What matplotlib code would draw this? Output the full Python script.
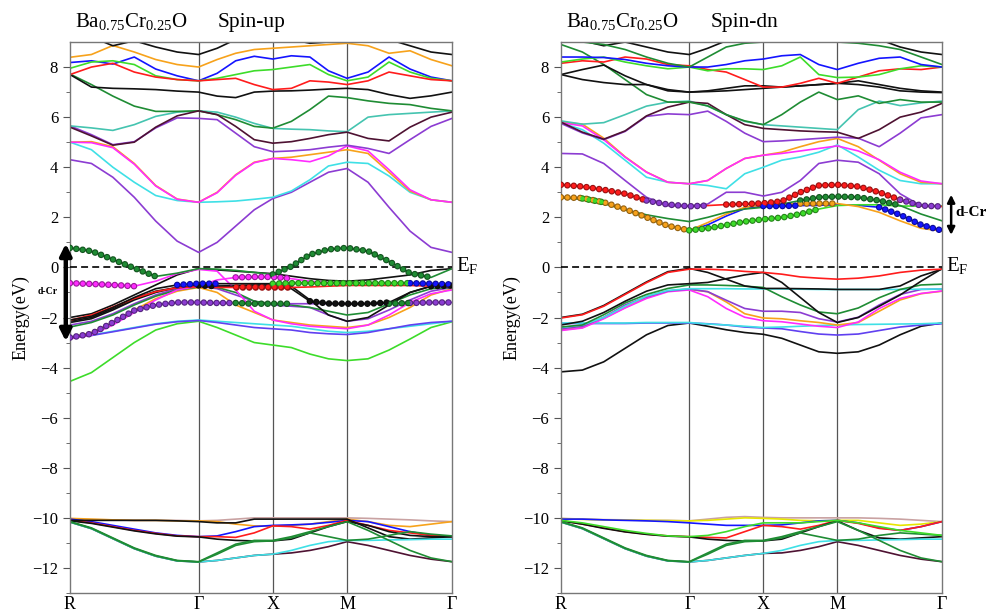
import numpy as np
import matplotlib
matplotlib.use("Agg")
import matplotlib.pyplot as plt
import matplotlib.colors as mcolors

plt.rcParams['font.family'] = ['Liberation Serif', 'DejaVu Serif']
plt.rcParams['mathtext.fontset'] = 'custom'
plt.rcParams['mathtext.rm'] = 'Liberation Serif'
plt.rcParams['lines.scale_dashes'] = False

# high-symmetry path R-G-X-M-G, energies sampled at 7+4+4+5 points
kpath_labels = ['R', 'Γ', 'X', 'M', 'Γ']
seg_len = [0.866, 0.5, 0.5, 0.707]
seg_pts = [6, 4, 4, 5]

# ---------------- spin-up ----------------
up_pur1 = [4.3, 4.15, 3.6, 2.8, 1.85, 1.05, 0.6,  1.0, 1.65, 2.3, 2.75,  3.0, 3.4, 3.8, 3.95,  3.4, 2.4, 1.45, 0.8, 0.6]
up_cya1 = [5.0, 4.7, 4.0, 3.4, 2.87, 2.67, 2.6,  2.62, 2.65, 2.72, 2.8,  3.05, 3.5, 4.05, 4.2,  4.15, 3.65, 3.0, 2.7, 2.6]
up_ora1 = [5.0, 5.02, 4.82, 4.15, 3.27, 2.73, 2.6,  3.0, 3.7, 4.2, 4.35,  4.4, 4.5, 4.6, 4.7,  4.55, 3.8, 3.05, 2.7, 2.6]
up_mag1 = [5.0, 4.98, 4.78, 4.12, 3.25, 2.72, 2.6,  2.98, 3.68, 4.18, 4.35,  4.3, 4.22, 4.45, 4.85,  4.65, 3.9, 3.1, 2.7, 2.6]
up_pur2 = [5.65, 5.3, 4.9, 5.02, 5.57, 5.97, 5.95,  5.9, 5.36, 4.82, 4.62,  4.65, 4.7, 4.8, 4.88,  4.75, 4.55, 5.1, 5.63, 5.95]
up_teal = [5.65, 5.57, 5.47, 5.7, 6.03, 6.2, 6.25,  6.2, 6.0, 5.75, 5.55,  5.52, 5.5, 5.45, 5.42,  6.0, 6.1, 6.15, 6.2, 6.25]
up_dgr1 = [7.72, 7.3, 6.84, 6.44, 6.23, 6.23, 6.25,  6.1, 5.9, 5.63, 5.56,  5.83, 6.3, 6.84, 6.78,  6.65, 6.55, 6.5, 6.35, 6.25]
up_blk1 = [7.7, 7.2, 7.15, 7.13, 7.1, 7.04, 7.0,  6.84, 6.78, 7.0, 7.04,  7.05, 7.08, 7.12, 7.15,  7.1, 6.9, 6.75, 6.85, 7.0]
up_mar1 = [5.6, 5.25, 4.88, 5.0, 5.6, 6.05, 6.25,  6.1, 5.63, 5.1, 4.96,  5.02, 5.15, 5.3, 5.4,  5.15, 5.05, 5.6, 6.0, 6.2]
up_blu1 = [8.18, 8.25, 8.12, 8.4, 7.92, 7.65, 7.45,  7.75, 8.25, 8.43, 8.32,  8.45, 8.4, 7.85, 7.55,  7.8, 8.4, 7.92, 7.6, 7.45]
up_grn1 = [7.95, 8.2, 8.25, 8.1, 7.65, 7.5, 7.45,  7.55, 7.7, 7.85, 7.9,  8.0, 8.1, 7.7, 7.45,  7.6, 8.2, 7.8, 7.55, 7.45]
up_red1 = [7.7, 8.0, 8.15, 7.8, 7.6, 7.5, 7.45,  7.5, 7.55, 7.3, 7.1,  7.15, 7.45, 7.4, 7.3,  7.45, 7.8, 7.65, 7.5, 7.45]
up_ora2 = [8.39, 8.5, 8.86, 8.6, 8.3, 8.1, 8.0,  8.3, 8.55, 8.7, 8.75,  8.8, 8.85, 8.9, 8.95,  8.85, 8.55, 8.65, 8.3, 8.05]
up_blk2 = [9.4, 9.2, 8.85, 9.05, 8.8, 8.6, 8.5,  8.75, 9.1, 9.3, 9.4,  9.1, 8.95, 9.0, 9.0,  9.2, 9.1, 8.85, 8.6, 8.5]

up_dcr = [0.78, 0.65, 0.32, -0.03, -0.36, -0.23, -0.05,  -0.07, -0.12, -0.2, -0.28,  0.04, 0.51, 0.72, 0.78,  0.65, 0.24, -0.23, -0.4, -0.05]
up_mag2 = [-0.63, -0.66, -0.7, -0.75, -0.55, -0.25, -0.08,  -0.15, -0.9, -1.75, -2.1,  -2.25, -2.35, -2.4, -2.45,  -2.3, -1.9, -1.4, -1.05, -0.9]
up_mag3 = [-2.85, -2.7, -2.3, -1.8, -1.3, -0.9, -0.75,  -0.5, -0.4, -0.38, -0.38,  -0.45, -0.55, -0.6, -0.62,  -0.62, -0.62, -0.63, -0.65, -0.68]
up_flat = [-2.1, -1.95, -1.6, -1.2, -0.85, -0.7, -0.65,  -0.65, -0.65, -0.65, -0.65,  -0.63, -0.63, -0.63, -0.63,  -0.63, -0.63, -0.63, -0.65, -0.68]
up_red2 = [-2.11, -1.9, -1.58, -1.24, -0.97, -0.81, -0.77,  -0.8, -0.8, -0.8, -0.8,  -0.8, -0.78, -0.75, -0.72,  -0.72, -0.72, -0.72, -0.75, -0.77]
up_blk3 = [-2.2, -2.05, -1.7, -1.3, -1.0, -0.8, -0.72,  -0.75, -0.75, -0.75, -0.75,  -0.85, -1.35, -1.44, -1.45,  -1.45, -1.4, -1.0, -0.75, -0.72]
up_pur3 = [-2.8, -2.65, -2.2, -1.72, -1.5, -1.4, -1.4,  -1.42, -1.42, -1.45, -1.45,  -1.45, -1.45, -1.45, -1.45,  -1.45, -1.45, -1.42, -1.4, -1.4]
up_dgr2 = [-2.38, -2.2, -1.9, -1.5, -1.15, -0.9, -0.78,  -0.8, -1.0, -1.35, -1.45,  -1.5, -1.6, -1.75, -1.9,  -1.8, -1.45, -1.1, -0.85, -0.8]
up_cya2 = [-2.8, -2.7, -2.55, -2.4, -2.25, -2.15, -2.1,  -2.15, -2.2, -2.25, -2.3,  -2.35, -2.45, -2.55, -2.6,  -2.55, -2.45, -2.35, -2.25, -2.15]
up_grn2 = [-4.55, -4.2, -3.6, -3.0, -2.5, -2.25, -2.15,  -2.4, -2.7, -3.0, -3.1,  -3.2, -3.46, -3.65, -3.72,  -3.65, -3.3, -2.86, -2.4, -2.17]
up_ora3 = [-2.8, -2.6, -2.2, -1.7, -1.25, -0.95, -0.8,  -1.0, -1.5, -1.8, -2.1,  -2.2, -2.3, -2.35, -2.4,  -2.3, -2.0, -1.6, -1.1, -0.85]
up_pur4 = [-2.3, -2.15, -1.85, -1.45, -1.1, -0.85, -0.75,  -0.85, -1.1, -1.35, -1.5,  -1.55, -1.6, -1.9, -2.15,  -2.05, -1.7, -1.3, -0.95, -0.8]
up_blk4 = [-2.0, -1.85, -1.5, -1.1, -0.7, -0.3, -0.05,  -0.1, -0.15, -0.2, -0.25,  -0.35, -0.45, -0.52, -0.55,  -0.5, -0.4, -0.3, -0.12, -0.05]
up_blk5 = [-2.15, -2.0, -1.65, -1.25, -0.95, -0.8, -0.75,  -0.75, -0.72, -0.7, -0.7,  -0.75, -1.3, -1.9, -2.15,  -2.0, -1.5, -1.0, -0.75, -0.7]
up_pur5 = [-2.82, -2.72, -2.57, -2.42, -2.27, -2.17, -2.12,  -2.2, -2.3, -2.4, -2.45,  -2.5, -2.6, -2.65, -2.68,  -2.6, -2.45, -2.3, -2.2, -2.15]

up_c_tan = [-10.05, -10.07, -10.08, -10.1, -10.1, -10.1, -10.12,  -10.1, -10.05, -10.0, -10.0,  -10.0, -10.0, -10.0, -10.0,  -10.02, -10.05, -10.08, -10.12, -10.15]
up_c_ora = [-10.02, -10.05, -10.08, -10.1, -10.1, -10.12, -10.12,  -10.15, -10.25, -10.32, -10.33,  -10.3, -10.25, -10.15, -10.05,  -10.15, -10.3, -10.35, -10.25, -10.15]
up_c_blu = [-10.05, -10.15, -10.3, -10.45, -10.6, -10.7, -10.75,  -10.72, -10.55, -10.35, -10.3,  -10.28, -10.25, -10.18, -10.1,  -10.15, -10.35, -10.55, -10.7, -10.75]
up_c_red = [-10.1, -10.2, -10.35, -10.5, -10.62, -10.72, -10.75,  -10.75, -10.78, -10.6, -10.32,  -10.35, -10.45, -10.3, -10.1,  -10.3, -10.5, -10.6, -10.7, -10.75]
up_c_blk1 = [-10.1, -10.1, -10.1, -10.1, -10.1, -10.12, -10.15,  -10.2, -10.2, -10.05, -10.05,  -10.05, -10.05, -10.05, -10.05,  -10.4, -10.75, -10.85, -10.8, -10.75]
up_c_blk2 = [-10.12, -10.22, -10.37, -10.52, -10.64, -10.73, -10.76,  -10.85, -10.9, -10.92, -10.92,  -10.85, -10.6, -10.35, -10.15,  -10.3, -10.55, -10.7, -10.75, -10.75]
up_c_dgr1 = [-10.15, -10.4, -10.8, -11.2, -11.5, -11.7, -11.75,  -11.4, -11.05, -10.9, -10.9,  -10.75, -10.55, -10.35, -10.15,  -10.5, -10.9, -11.3, -11.6, -11.75]
up_c_dgr2 = [-10.16, -10.42, -10.82, -11.22, -11.52, -11.71, -11.76,  -11.45, -11.1, -10.95, -10.92,  -10.8, -10.6, -10.75, -10.9,  -10.85, -10.7, -10.55, -10.65, -10.72]
up_c_cya = [-10.17, -10.43, -10.83, -11.23, -11.53, -11.72, -11.76,  -11.7, -11.6, -11.5, -11.45,  -11.3, -11.1, -10.95, -10.9,  -10.9, -10.88, -10.87, -10.85, -10.85]
up_c_mar = [-10.17, -10.43, -10.83, -11.23, -11.53, -11.72, -11.76,  -11.7, -11.6, -11.5, -11.45,  -11.4, -11.3, -11.15, -10.95,  -11.1, -11.3, -11.5, -11.65, -11.75]

# fat-band (d-Cr weight) flags
w_up_dcr = [1, 1, 1, 1, 1, 0, 0,  0, 0, 0, 1,  1, 1, 1, 1,  1, 1, 1, 1, 0]
w_up_mag2 = [1, 1, 1, 1, 0, 0, 0,  0, 0, 0, 0,  0, 0, 0, 0,  0, 0, 0, 0, 0]
w_up_mag3 = [0, 0, 0, 0, 0, 0, 0,  0, 1, 1, 1,  1, 0, 0, 0,  0, 0, 0, 0, 0]
w_up_flat_g = [0, 0, 0, 0, 0, 0, 0,  0, 0, 0, 1,  1, 1, 1, 1,  1, 1, 1, 0, 0]
w_up_flat_b = [0, 0, 0, 0, 0, 1, 1,  1, 0, 0, 0,  0, 0, 0, 0,  0, 0, 1, 1, 1]
w_up_red2 = [0, 0, 0, 0, 0, 0, 0,  0, 1, 1, 1,  1, 0, 0, 0,  0, 0, 0, 0, 0]
w_up_blk3 = [0, 0, 0, 0, 0, 0, 1,  1, 0, 0, 0,  0, 1, 1, 1,  1, 1, 0, 1, 1]
w_up_pur3_p = [1, 1, 1, 1, 1, 1, 1,  1, 1, 0, 0,  0, 0, 0, 0,  0, 0, 1, 1, 1]
w_up_pur3_g = [0, 0, 0, 0, 0, 0, 0,  0, 1, 1, 1,  1, 0, 0, 0,  0, 1, 1, 0, 0]

# ---------------- spin-dn ----------------
dn_pur1 = [4.55, 4.53, 4.15, 3.47, 2.8, 2.46, 2.45,  2.53, 3.0, 3.0, 2.85,  3.0, 3.47, 4.15, 4.28,  4.2, 3.74, 2.94, 2.46, 2.45]
dn_cya1 = [5.77, 5.5, 4.96, 4.28, 3.6, 3.4, 3.34,  3.27, 3.14, 3.74, 4.0,  4.28, 4.41, 4.6, 4.89,  4.41, 3.88, 3.47, 3.34, 3.34]
dn_ora1 = [5.8, 5.72, 5.16, 4.42, 3.81, 3.4, 3.34,  3.47, 3.95, 4.35, 4.48,  4.6, 4.82, 5.02, 5.15,  4.82, 4.28, 3.74, 3.4, 3.34]
dn_mag1 = [5.78, 5.65, 5.1, 4.4, 3.8, 3.4, 3.34,  3.47, 3.95, 4.35, 4.48,  4.55, 4.65, 4.75, 4.85,  4.65, 4.3, 3.8, 3.45, 3.34]
dn_pur2 = [5.75, 5.37, 5.1, 5.43, 6.03, 6.13, 6.1,  6.24, 5.83, 5.36, 5.02,  5.05, 5.1, 5.15, 5.2,  5.16, 4.82, 5.36, 5.97, 6.1]
dn_teal = [5.85, 5.72, 5.78, 6.1, 6.44, 6.6, 6.64,  6.44, 6.1, 5.83, 5.7,  5.65, 5.6, 5.55, 5.5,  6.3, 6.64, 6.46, 6.57, 6.64]
dn_mar1 = [5.8, 5.4, 5.12, 5.45, 6.05, 6.4, 6.6,  6.55, 6.1, 5.7, 5.55,  5.5, 5.45, 5.42, 5.4,  5.15, 5.5, 6.0, 6.2, 6.55]
dn_dgr1 = [8.9, 8.6, 8.1, 7.5, 6.9, 6.6, 6.6,  6.45, 6.1, 5.85, 5.7,  6.1, 6.6, 7.0, 6.7,  6.85, 6.55, 6.7, 6.6, 6.6]
dn_blk1 = [7.7, 7.5, 7.38, 7.3, 7.3, 7.1, 7.0,  7.02, 7.05, 7.1, 7.15,  7.2, 7.25, 7.3, 7.35,  7.3, 7.2, 7.05, 7.0, 6.98]
dn_blk2 = [7.7, 7.9, 8.08, 7.65, 7.3, 7.05, 7.0,  7.05, 7.15, 7.25, 7.25,  7.2, 7.25, 7.3, 7.35,  7.45, 7.3, 7.15, 7.05, 7.0]
dn_red1 = [8.15, 8.25, 8.2, 8.4, 8.32, 8.1, 8.05,  7.9, 7.8, 7.5, 7.2,  7.2, 7.35, 7.55, 7.35,  7.6, 7.85, 7.93, 7.9, 8.0]
dn_grn1 = [8.2, 8.32, 8.4, 8.2, 8.05, 7.93, 8.0,  7.85, 7.93, 7.93, 7.9,  8.05, 8.4, 7.7, 7.58,  7.6, 7.7, 7.93, 8.05, 8.0]
dn_blu1 = [8.4, 8.4, 8.38, 8.3, 8.15, 8.05, 8.0,  8.0, 8.1, 8.25, 8.32,  8.45, 8.5, 8.1, 7.9,  8.15, 8.35, 8.4, 8.1, 8.0]
dn_blk3 = [9.2, 9.05, 8.85, 9.0, 8.8, 8.6, 8.5,  8.75, 9.05, 9.3, 9.4,  9.3, 9.1, 9.0, 9.0,  9.0, 9.1, 8.8, 8.6, 8.5]
dn_dgr2 = [9.0, 9.0, 8.9, 8.7, 8.4, 8.15, 8.0,  8.4, 8.8, 8.95, 9.0,  9.0, 9.0, 9.0, 9.0,  8.95, 8.85, 8.7, 8.4, 8.1]

dn_red2 = [3.3, 3.23, 3.1, 2.94, 2.67, 2.51, 2.44,  2.47, 2.51, 2.53, 2.56,  2.64, 3.0, 3.27, 3.3,  3.23, 3.0, 2.7, 2.47, 2.43]
dn_ora2 = [2.8, 2.77, 2.6, 2.33, 2.0, 1.66, 1.48,  1.79, 2.13, 2.4, 2.5,  2.52, 2.55, 2.55, 2.55,  2.43, 2.2, 1.86, 1.56, 1.45]
dn_dgr3 = [2.78, 2.72, 2.55, 2.3, 2.1, 1.95, 1.83,  2.0, 2.2, 2.33, 2.4,  2.53, 2.67, 2.8, 2.83,  2.8, 2.67, 2.47, 2.13, 1.86]
dn_grn2 = [2.8, 2.75, 2.6, 2.3, 1.98, 1.65, 1.48,  1.56, 1.69, 1.83, 1.92,  1.99, 2.13, 2.33, 2.47,  2.5, 2.5, 2.45, 2.45, 2.45]
dn_blu2 = [2.8, 2.75, 2.6, 2.33, 2.0, 1.66, 1.48,  1.7, 2.05, 2.35, 2.45,  2.45, 2.47, 2.48, 2.5,  2.48, 2.4, 2.1, 1.7, 1.47]

dn_red3 = [-2.02, -1.89, -1.55, -1.08, -0.61, -0.2, -0.07,  -0.07, -0.1, -0.16, -0.2,  -0.27, -0.38, -0.43, -0.47,  -0.43, -0.34, -0.2, -0.11, -0.07]
dn_blk4 = [-2.0, -1.87, -1.52, -1.05, -0.58, -0.17, -0.04,  -0.2, -0.47, -0.74, -0.84,  -0.84, -0.85, -0.86, -0.88,  -0.88, -0.88, -0.74, -0.34, -0.07]
dn_blk5 = [-2.3, -2.15, -1.8, -1.35, -0.95, -0.7, -0.65,  -0.6, -0.45, -0.3, -0.2,  -0.6, -1.2, -1.8, -2.2,  -2.0, -1.55, -1.1, -0.55, -0.05]
dn_dgr4 = [-2.38, -2.3, -1.89, -1.42, -1.08, -0.84, -0.7,  -0.7, -0.72, -0.75, -0.8,  -1.17, -1.5, -1.78, -1.85,  -1.62, -1.21, -0.88, -0.7, -0.67]
dn_cya2 = [-2.4, -2.3, -2.0, -1.55, -1.15, -0.92, -0.85,  -0.85, -0.85, -0.86, -0.86,  -0.86, -0.87, -0.88, -0.88,  -0.88, -0.88, -0.88, -0.87, -0.86]
dn_pur3 = [-2.45, -2.35, -1.99, -1.5, -1.17, -0.94, -0.86,  -0.97, -1.31, -1.64, -1.75,  -1.75, -1.8, -2.05, -2.18,  -1.99, -1.5, -1.08, -0.88, -0.86]
dn_mag2 = [-2.52, -2.42, -2.05, -1.62, -1.24, -0.97, -0.9,  -1.17, -1.64, -1.99, -2.13,  -2.17, -2.26, -2.35, -2.4,  -2.18, -1.64, -1.24, -1.04, -0.94]
dn_ora3 = [-2.5, -2.4, -2.02, -1.6, -1.2, -0.95, -0.88,  -0.97, -1.38, -1.85, -2.02,  -2.05, -2.13, -2.2, -2.3,  -2.2, -1.75, -1.3, -1.05, -0.95]
dn_cya3 = [-2.22, -2.22, -2.22, -2.22, -2.2, -2.2, -2.2,  -2.26, -2.3, -2.35, -2.4,  -2.38, -2.35, -2.32, -2.3,  -2.28, -2.27, -2.26, -2.25, -2.22]
dn_pur4 = [-2.24, -2.24, -2.24, -2.24, -2.22, -2.22, -2.22,  -2.25, -2.3, -2.38, -2.42,  -2.45, -2.56, -2.66, -2.7,  -2.66, -2.52, -2.38, -2.3, -2.25]
dn_blk6 = [-4.17, -4.1, -3.77, -3.23, -2.69, -2.32, -2.22,  -2.35, -2.49, -2.6, -2.67,  -2.83, -3.1, -3.37, -3.43,  -3.37, -3.1, -2.69, -2.35, -2.22]

dn_c_tan = [-10.02, -10.05, -10.07, -10.08, -10.1, -10.1, -10.12,  -10.05, -9.98, -9.95, -9.98,  -10.0, -10.0, -10.0, -10.0,  -10.0, -10.02, -10.05, -10.1, -10.15]
dn_c_yel = [-10.03, -10.06, -10.08, -10.09, -10.1, -10.11, -10.12,  -10.1, -10.05, -10.0, -10.02,  -10.05, -10.1, -10.12, -10.1,  -10.1, -10.2, -10.3, -10.25, -10.15]
dn_c_blu = [-10.05, -10.05, -10.08, -10.1, -10.12, -10.15, -10.2,  -10.25, -10.3, -10.3, -10.3,  -10.28, -10.2, -10.12, -10.1,  -10.2, -10.4, -10.5, -10.35, -10.15]
dn_c_grn = [-10.1, -10.2, -10.35, -10.5, -10.62, -10.72, -10.75,  -10.7, -10.55, -10.35, -10.2,  -10.2, -10.2, -10.15, -10.1,  -10.2, -10.35, -10.5, -10.6, -10.7]
dn_c_red = [-10.1, -10.25, -10.4, -10.55, -10.65, -10.72, -10.75,  -10.78, -10.8, -10.55, -10.3,  -10.35, -10.45, -10.3, -10.1,  -10.22, -10.42, -10.5, -10.35, -10.15]
dn_c_blk = [-10.12, -10.25, -10.42, -10.56, -10.66, -10.73, -10.76,  -10.85, -10.9, -10.92, -10.92,  -10.85, -10.6, -10.35, -10.12,  -10.5, -10.8, -10.85, -10.8, -10.75]
dn_c_dgr1 = [-10.15, -10.4, -10.8, -11.2, -11.5, -11.7, -11.75,  -11.4, -11.05, -10.9, -10.9,  -10.75, -10.55, -10.35, -10.15,  -10.5, -10.9, -11.3, -11.6, -11.75]
dn_c_dgr2 = [-10.16, -10.42, -10.82, -11.22, -11.52, -11.71, -11.76,  -11.45, -11.1, -10.95, -10.92,  -10.8, -10.6, -10.75, -10.9,  -10.85, -10.7, -10.6, -10.65, -10.7]
dn_c_cya = [-10.17, -10.43, -10.83, -11.23, -11.53, -11.72, -11.76,  -11.7, -11.6, -11.5, -11.42,  -11.3, -11.1, -10.95, -10.9,  -10.9, -10.88, -10.87, -10.85, -10.85]
dn_c_mar = [-10.17, -10.43, -10.83, -11.23, -11.53, -11.72, -11.76,  -11.7, -11.6, -11.5, -11.42,  -11.4, -11.3, -11.15, -10.95,  -11.1, -11.3, -11.5, -11.65, -11.75]

w_dn_red_r = [1, 1, 1, 1, 1, 0, 0,  0, 1, 1, 1,  1, 1, 1, 1,  1, 1, 1, 0, 0]
w_dn_red_p = [0, 0, 0, 0, 1, 1, 1,  1, 0, 0, 0,  0, 0, 0, 0,  0, 0, 1, 1, 1]
w_dn_ora = [1, 1, 1, 1, 1, 1, 1,  0, 0, 0, 0,  0, 1, 1, 1,  0, 0, 0, 0, 0]
w_dn_dgr = [0, 0, 0, 0, 0, 0, 0,  0, 0, 0, 0,  0, 1, 1, 1,  1, 1, 1, 0, 0]
w_dn_grn = [0, 1, 1, 0, 0, 0, 1,  1, 1, 1, 1,  1, 1, 1, 0,  0, 0, 0, 0, 0]
w_dn_blu = [0, 0, 0, 0, 0, 0, 0,  0, 0, 0, 1,  1, 1, 0, 0,  0, 1, 1, 1, 1]

PUR, CYA, ORA, MAG = '#8c3cd2', '#3fe0e6', '#f7a21b', '#ff2cff'
DGR, GRN, TEAL, BLU = '#1f8c34', '#3ddc2a', '#45c4b0', '#1414ff'
RED, BLK, MAR, TAN, YEL = '#ff1c1c', '#111111', '#4e1232', '#c9a2a2', '#e6e600'
VIO = '#6040f0'

up_lines = [(up_pur1, PUR), (up_cya1, CYA), (up_ora1, ORA), (up_mag1, MAG), (up_pur2, PUR),
            (up_teal, TEAL), (up_dgr1, DGR), (up_blk1, BLK), (up_mar1, MAR), (up_blu1, BLU),
            (up_grn1, GRN), (up_red1, RED), (up_ora2, ORA), (up_blk2, BLK),
            (up_grn2, GRN), (up_cya2, CYA), (up_pur5, VIO), (up_ora3, ORA), (up_pur4, PUR),
            (up_dgr2, DGR), (up_blk5, BLK), (up_blk4, BLK), (up_mag3, MAG), (up_mag2, MAG),
            (up_pur3, PUR), (up_blk3, BLK), (up_red2, RED), (up_flat, BLK), (up_dcr, DGR),
            (up_c_tan, TAN), (up_c_ora, ORA), (up_c_blu, BLU), (up_c_red, RED), (up_c_blk1, BLK),
            (up_c_blk2, BLK), (up_c_mar, MAR), (up_c_cya, CYA), (up_c_dgr2, DGR), (up_c_dgr1, DGR)]
up_fat = [(up_pur3, w_up_pur3_p, PUR), (up_pur3, w_up_pur3_g, DGR), (up_blk3, w_up_blk3, BLK),
          (up_red2, w_up_red2, RED), (up_mag3, w_up_mag3, MAG), (up_flat, w_up_flat_g, GRN),
          (up_flat, w_up_flat_b, BLU), (up_mag2, w_up_mag2, MAG), (up_dcr, w_up_dcr, DGR)]

dn_lines = [(dn_pur1, PUR), (dn_cya1, CYA), (dn_ora1, ORA), (dn_mag1, MAG), (dn_pur2, PUR),
            (dn_teal, TEAL), (dn_mar1, MAR), (dn_dgr1, DGR), (dn_blk1, BLK), (dn_blk2, BLK),
            (dn_red1, RED), (dn_grn1, GRN), (dn_blu1, BLU), (dn_blk3, BLK), (dn_dgr2, DGR),
            (dn_blu2, BLU), (dn_grn2, GRN), (dn_ora2, ORA), (dn_dgr3, DGR), (dn_red2, RED),
            (dn_blk6, BLK), (dn_pur4, VIO), (dn_cya3, CYA), (dn_ora3, ORA), (dn_mag2, MAG),
            (dn_pur3, PUR), (dn_cya2, CYA), (dn_dgr4, DGR), (dn_blk5, BLK), (dn_blk4, BLK),
            (dn_red3, RED),
            (dn_c_tan, TAN), (dn_c_yel, YEL), (dn_c_blu, BLU), (dn_c_red, RED), (dn_c_blk, BLK),
            (dn_c_mar, MAR), (dn_c_cya, CYA), (dn_c_dgr2, DGR), (dn_c_dgr1, DGR), (dn_c_grn, GRN)]
dn_fat = [(dn_ora2, w_dn_ora, ORA), (dn_grn2, w_dn_grn, GRN), (dn_blu2, w_dn_blu, BLU),
          (dn_dgr3, w_dn_dgr, DGR), (dn_red2, w_dn_red_r, RED), (dn_red2, w_dn_red_p, PUR)]

k = [0.0]
for L, n in zip(seg_len, seg_pts):
    k += list(k[-1] + np.linspace(0, L, n + 1)[1:])
k = np.array(k)
k_nodes = np.concatenate([[0], np.cumsum(seg_len)])


def draw_panel(ax, lines, fat):
    for vals, c in lines:
        ax.plot(k, vals, color=c, lw=1.2, zorder=2)
    for vals, w, c in fat:
        v = np.where(np.array(w) > 0, vals, np.nan)
        dark = tuple(np.array(mcolors.to_rgb(c)) * 0.6)
        ax.plot(k, v, color=dark, lw=4.8, ls=(0, (0.01, 4.6)), dash_capstyle='round', zorder=4)
        ax.plot(k, v, color=c, lw=3.2, ls=(0, (0.01, 4.6)), dash_capstyle='round', zorder=5)
    ax.axhline(0, color='k', lw=1.2, ls=(0, (5, 3)), zorder=3)
    for x in k_nodes[1:-1]:
        ax.axvline(x, color='#555555', lw=0.9, zorder=1)
    ax.set_xlim(0, k_nodes[-1])
    ax.set_ylim(-13, 9.0)
    ax.set_xticks(k_nodes)
    ax.set_xticklabels(kpath_labels, fontsize=13)
    ax.set_yticks(np.arange(-12, 9, 2))
    ax.set_yticks(np.arange(-13, 9, 1), minor=True)
    ax.tick_params(axis='y', which='major', direction='out', length=5, labelsize=12, color='#555555')
    ax.tick_params(axis='y', which='minor', direction='out', length=3, color='#555555')
    ax.tick_params(axis='x', length=0, pad=2)
    for s in ax.spines.values():
        s.set_color('#777777')
        s.set_linewidth(1.0)
    ax.set_ylabel('Energy(eV)', fontsize=13, labelpad=2)
    ax.text(1.01, 0.05, r'E$_{\mathregular{F}}$', transform=ax.get_yaxis_transform(),
            fontsize=15, va='center', ha='left')


fig = plt.figure(figsize=(9.88, 6.11), dpi=100)
ax1 = fig.add_axes([70 / 988, 1 - 593 / 611, 382 / 988, 551 / 611])
ax2 = fig.add_axes([561 / 988, 1 - 593 / 611, 381 / 988, 551 / 611])
draw_panel(ax1, up_lines, up_fat)
draw_panel(ax2, dn_lines, dn_fat)

title_chem = r'Ba$_{\mathregular{0.75}}$Cr$_{\mathregular{0.25}}$O'
fig.text(75 / 988, 1 - 22 / 611, title_chem, fontsize=15, va='center')
fig.text(218 / 988, 1 - 22 / 611, 'Spin-up', fontsize=15.5, va='center')
fig.text(566 / 988, 1 - 22 / 611, title_chem, fontsize=15, va='center')
fig.text(711 / 988, 1 - 22 / 611, 'Spin-dn', fontsize=15.5, va='center')

# d-Cr arrows
ax1.annotate('', xy=(-0.011, -2.95), xytext=(-0.011, 0.95), xycoords=ax1.get_yaxis_transform(),
             arrowprops=dict(arrowstyle='<|-|>', color='k', lw=3.2, mutation_scale=17,
                             shrinkA=0, shrinkB=0), annotation_clip=False)
ax1.text(-0.085, -0.95, 'd-Cr', transform=ax1.get_yaxis_transform(), fontsize=7,
         fontweight='bold', va='center', ha='left')
ax2.annotate('', xy=(1.024, 1.3), xytext=(1.024, 2.9), xycoords=ax2.get_yaxis_transform(),
             arrowprops=dict(arrowstyle='<|-|>', color='k', lw=1.8, mutation_scale=11,
                             shrinkA=0, shrinkB=0), annotation_clip=False)
ax2.text(1.036, 2.2, 'd-Cr', transform=ax2.get_yaxis_transform(), fontsize=11,
         fontweight='bold', va='center', ha='left')

fig.savefig('out.png', dpi=100)
